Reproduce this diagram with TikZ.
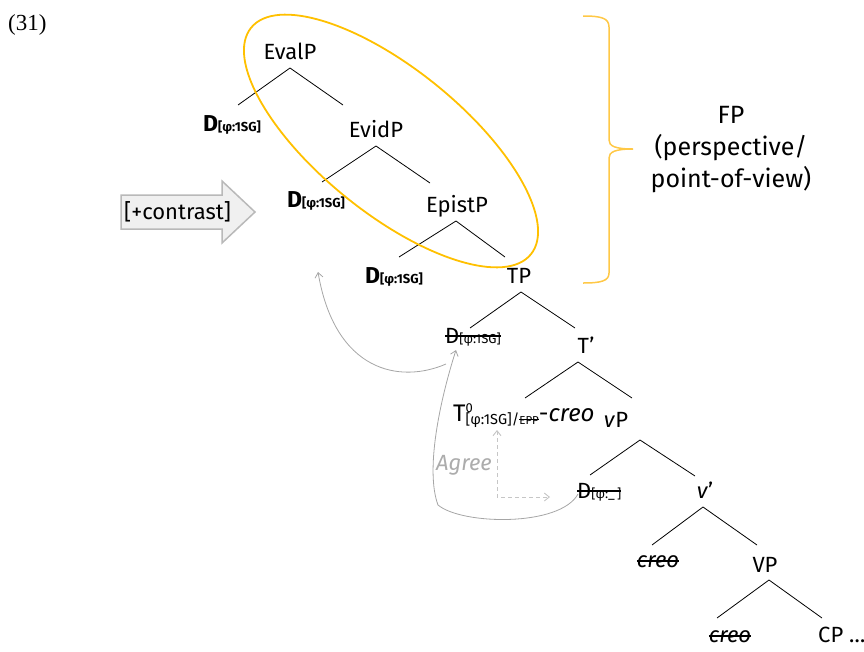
\documentclass[tikz,border=0pt]{standalone}
\usepackage{fontspec}
\setmainfont{Fira Sans}
\newfontfamily\numfont{Liberation Serif}
\usetikzlibrary{arrows.meta,calc}
\definecolor{gold}{RGB}{255,192,0}
\definecolor{bracecol}{RGB}{255,200,70}
\newcommand\strk[2]{{\setbox0=\hbox{#2}\rlap{\raisebox{#1}{\rule{\wd0}{1.1pt}}}\box0}}
\newcommand\bsub[1]{{\fontsize{13}{13}\selectfont #1}}
\newcommand\rsub[1]{{\fontsize{13}{13}\selectfont #1}}
\begin{document}
\begin{tikzpicture}[x=1pt,y=-1pt,
  lbl/.style={anchor=base, inner sep=0pt, font=\fontsize{22}{22}\selectfont},
  lblw/.style={anchor=base west, inner sep=0pt, font=\fontsize{22}{22}\selectfont},
  dlbl/.style={anchor=base west, inner sep=0pt, font=\fontsize{23}{23}\selectfont\bfseries},
  br/.style={line width=0.8pt, black},
  mv/.style={line width=0.8pt, draw=gray!70, -{Straight Barb[length=5pt,width=8pt]}},
  agr/.style={line width=0.9pt, draw=gray!45, dash pattern=on 4pt off 3pt, {Straight Barb[length=5pt,width=8pt]}-{Straight Barb[length=5pt,width=8pt]}}]
\useasboundingbox (0,0) rectangle (864,651);

% example number
\node[anchor=base west, inner sep=0pt, font=\numfont\fontsize{23}{23}\selectfont] (ex) at (8,30) {(31)};

% labels
\node[lbl] (evalp) at (290,59) {EvalP};
\node[dlbl] (d1) at (203,131) {D\bsub{[φ:1SG]}};
\node[lbl] (evidp) at (376,137) {EvidP};
\node[dlbl] (d2) at (287,207) {D\bsub{[φ:1SG]}};
\node[lbl] (epistp) at (457,212) {EpistP};
\node[dlbl] (d3) at (365,283) {D\bsub{[φ:1SG]}};
\node[lbl] (tp) at (519,283) {TP};
\node[lblw] (dtp) at (445,343) {\strk{6.5pt}{D\rsub{[φ:1SG]}}};
\node[lbl] (tbar) at (586,353) {T’};
\node[lblw, font=\fontsize{24}{24}\selectfont] (t0) at (453,421) {T\rlap{\raisebox{9pt}{\fontsize{13}{13}\selectfont 0}}\raisebox{-3pt}{\fontsize{14.5}{14.5}\selectfont[φ:1SG]/\strk{4pt}{\fontsize{11.5}{11.5}\selectfont EPP}}-\textit{creo}};
\node[lbl] (vp) at (616,427) {\textit{v}P};
\node[lblw] (dvp) at (577,498) {\strk{6.5pt}{D\rsub{[φ:\_\,]}}};
\node[lbl] (vbar) at (705,498) {\textit{v}’};
\node[lbl] (creo1) at (658,567) {\strk{5.5pt}{\itshape creo}};
\node[lbl] (vpp) at (765,572) {VP};
\node[lbl] (creo2) at (730,642) {\strk{5.5pt}{\itshape creo}};
\node[lblw] (cp) at (818,642) {CP …};

% branch points
\coordinate (a1) at (290,68);  \coordinate (a1l) at (238,105); \coordinate (a1r) at (343,105);
\coordinate (a2) at (376,146); \coordinate (a2l) at (322,182); \coordinate (a2r) at (430,183);
\coordinate (a3) at (456,221); \coordinate (a3l) at (399,257); \coordinate (a3r) at (505,257);
\coordinate (a4) at (521,292); \coordinate (a4l) at (470,328); \coordinate (a4r) at (575,328);
\coordinate (a5) at (578,362); \coordinate (a5l) at (525,398); \coordinate (a5r) at (632,398);
\coordinate (a6) at (640,440); \coordinate (a6l) at (590,475); \coordinate (a6r) at (695,476);
\coordinate (a7) at (703,507); \coordinate (a7l) at (652,545); \coordinate (a7r) at (757,545);
\coordinate (a8) at (769,580); \coordinate (a8l) at (717,618); \coordinate (a8r) at (822,618);
\foreach \i in {1,...,8}{\draw[br] (a\i l) -- (a\i) -- (a\i r);}

% ellipse around the perspective layer
\draw[gold, line width=1.8pt, rotate around={-39:(391,141)}] (391,141) ellipse [x radius=180, y radius=72];

% brace and FP label
\draw[bracecol, line width=1.5pt] (583,16) .. controls (601,16) and (609,18) .. (609,27) -- (609,140) .. controls (609,146) and (615,149) .. (633,149) .. controls (615,149) and (609,152) .. (609,158) -- (609,273) .. controls (609,281) and (601,283) .. (583,283);
\node[align=center, inner sep=0pt, font=\fontsize{25}{32}\selectfont, anchor=center] (fp) at (731,150) {FP\\(perspective/\\point-of-view)};

% [+contrast] arrow
\draw[fill=gray!12, draw=gray!55, line width=1.5pt] (121,195) -- (222,195) -- (222,181) -- (255,212) -- (222,243) -- (222,229) -- (121,229) -- cycle;
\node[inner sep=0pt, font=\fontsize{22}{22}\selectfont, anchor=base west] (contrast) at (124,219) {[+contrast]};

% movement arrows
\coordinate (m1s) at (446,364); \coordinate (m1e) at (318,272);
\draw[mv] (m1s) .. controls (400,384) and (335,372) .. (m1e);
\coordinate (m2s) at (578,494); \coordinate (m2m) at (438,505); \coordinate (m2e) at (456,350);
\draw[mv] (m2s) .. controls (560,527) and (462,525) .. (m2m) .. controls (425,470) and (440,400) .. (m2e);

% Agree
\coordinate (ag1) at (497,430); \coordinate (agc) at (497,497); \coordinate (ag2) at (550,497);
\draw[agr] (ag1) -- (agc) -- (ag2);
\node[anchor=base west, inner sep=0pt, text=gray!65, font=\fontsize{22}{22}\selectfont\itshape] (agree) at (436,470) {Agree};
\end{tikzpicture}
\end{document}
